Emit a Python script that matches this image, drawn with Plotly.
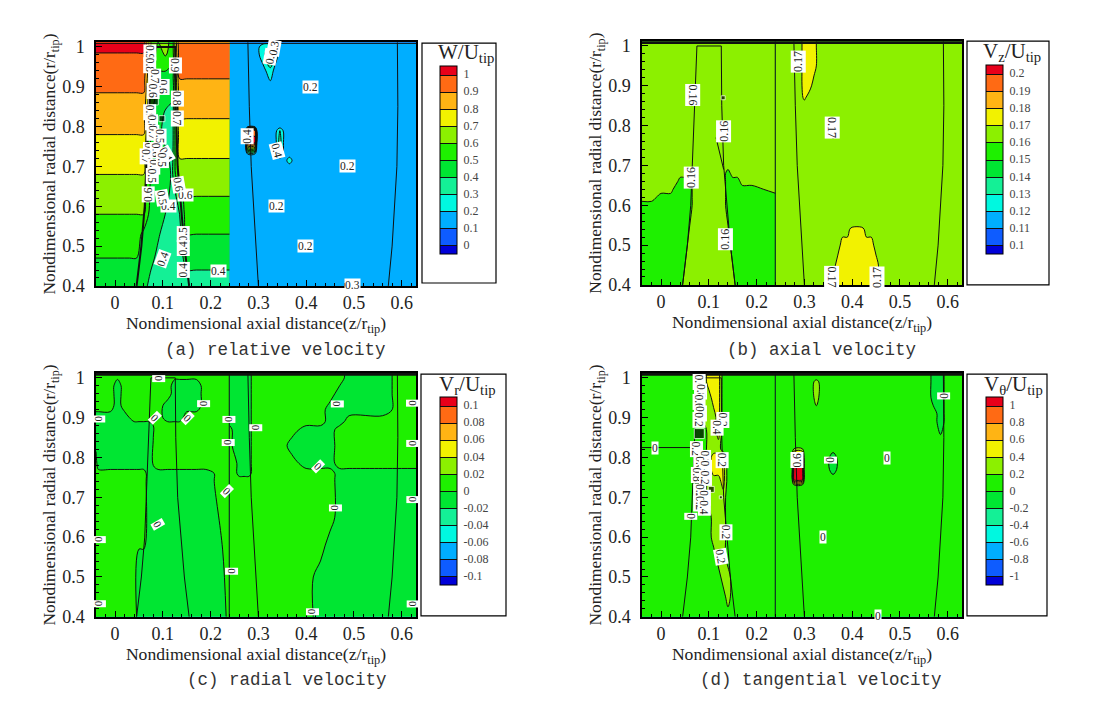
import plotly.graph_objects as go

W, H = 1096, 711
SERIF = "Liberation Serif"
PALETTE = ["#0000d8", "#0e5cff", "#00aeff", "#00f8e0", "#14f096", "#00e632",
           "#1ef000", "#8cf000", "#f2f200", "#ffb414", "#ff6a14", "#e8001a"]

panel_titles = ["W/U<sub>tip</sub>", "V<sub>z</sub>/U<sub>tip</sub>", "V<sub>r</sub>/U<sub>tip</sub>", "V<sub>θ</sub>/U<sub>tip</sub>"]
captions = ["(a) relative velocity", "(b) axial velocity", "(c) radial velocity", "(d) tangential velocity"]
level_start = [0, 0.1, -0.1, -1]
level_end = [1, 0.2, 0.1, 1]
level_size = [0.1, 0.01, 0.02, 0.2]
tick_text = [["0", "0.1", "0.2", "0.3", "0.4", "0.5", "0.6", "0.7", "0.8", "0.9", "1"],
             ["0.1", "0.11", "0.12", "0.13", "0.14", "0.15", "0.16", "0.17", "0.18", "0.19", "0.2"],
             ["-0.1", "-0.08", "-0.06", "-0.04", "-0.02", "0", "0.02", "0.04", "0.06", "0.08", "0.1"],
             ["-1", "-0.8", "-0.6", "-0.4", "-0.2", "0", "0.2", "0.4", "0.6", "0.8", "1"]]

# ---------- (a) relative velocity
a_lx = [-.04, .03, .045, .06, .075, .09, .105, .12, .135, .15, .17, .24]
a_ly = [.4, .44, .47, .53, .58, .625, .68, .72, .78, .82, .885, .92, .985, 1.012]
a_lz = [
    [.44, .44, .44, .42, .38, .36, .35, .35, .35, .35, .35, .35],
    [.48, .48, .47, .44, .40, .37, .36, .36, .36, .40, .40, .40],
    [.50, .50, .50, .45, .42, .38, .36, .36, .37, .43, .43, .43],
    [.55, .55, .55, .47, .44, .41, .37, .36, .38, .50, .50, .50],
    [.60, .60, .60, .60, .45, .43, .40, .37, .40, .55, .55, .55],
    [.65, .65, .65, .65, .47, .44, .42, .38, .42, .60, .60, .60],
    [.70, .70, .70, .70, .48, .45, .43, .39, .65, .65, .65, .65],
    [.74, .74, .74, .74, .48, .45, .42, .38, .70, .70, .70, .70],
    [.80, .80, .80, .80, .48, .42, .38, .36, .76, .76, .76, .76],
    [.84, .84, .84, .84, .50, .44, .38, .37, .80, .80, .80, .80],
    [.90, .90, .90, .90, .60, .46, .44, .42, .86, .86, .86, .86],
    [.94, .94, .94, .94, .65, .48, .45, .45, .90, .90, .90, .90],
    [1.0, 1.0, 1.0, 1.0, .70, .55, .62, .55, .96, .96, .96, .96],
    [1.05, 1.05, 1.05, 1.05, .70, .60, .65, .55, .99, .99, .99, .99],
]
a_rx = [.24, .273, .277, .293, .297, .31, .325, .335, .345, .355, .365, .375, .63]
a_ry = [.4, .70, .715, .73, .76, .79, .80, .90, .94, .98, 1.0, 1.012]
a_rz = [
    [.15, .15, .15, .15, .15, .15, .15, .15, .15, .15, .15, .15, .15],
    [.15, .15, .15, .15, .15, .15, .15, .15, .15, .15, .15, .15, .15],
    [.15, .15, .15, .15, .15, .15, .15, .15, .15, .15, .26, .15, .15],
    [.15, .15, .15, .15, .15, .15, .15, .15, .28, .15, .15, .15, .15],
    [.15, .15, 1.05, 1.05, .15, .15, .15, .15, .35, .15, .15, .15, .15],
    [.15, .15, .95, .95, .15, .15, .15, .15, .30, .15, .15, .15, .15],
    [.15, .15, .15, .15, .15, .15, .15, .15, .15, .15, .15, .15, .15],
    [.15, .15, .15, .15, .15, .15, .15, .15, .15, .15, .15, .15, .15],
    [.15, .15, .15, .15, .15, .15, .28, .15, .15, .15, .15, .15, .15],
    [.15, .15, .15, .15, .15, .28, .38, .28, .15, .15, .15, .15, .15],
    [.15, .15, .15, .15, .15, .28, .30, .28, .15, .15, .15, .15, .15],
    [.15, .15, .15, .15, .15, .15, .15, .15, .15, .15, .15, .15, .15],
]

# ---------- (b) axial velocity
b_lx = [-.04, -.02, 0, .02, .03, .04, .05, .06, .07, .125, .13, .14, .15, .16, .17, .19, .24]
b_ly = [.4, .5, .6, .62, .64, .66, .68, .70, 1.012]
b_lz = [
    [.155, .155, .155, .155, .155, .155, .165, .165, .165, .165, .165, .165, .165, .155, .155, .155, .155],
    [.155, .155, .155, .155, .155, .155, .155, .165, .165, .165, .165, .165, .155, .155, .155, .155, .155],
    [.155, .155, .155, .155, .155, .155, .155, .155, .165, .165, .165, .155, .155, .155, .155, .155, .155],
    [.165, .165, .155, .155, .155, .155, .155, .155, .165, .165, .165, .155, .155, .155, .155, .155, .155],
    [.165, .165, .165, .165, .155, .155, .155, .155, .165, .165, .165, .155, .155, .155, .155, .155, .165],
    [.165, .165, .165, .165, .165, .155, .155, .155, .165, .165, .165, .155, .155, .155, .165, .165, .165],
    [.165, .165, .165, .165, .165, .165, .165, .165, .165, .165, .165, .155, .165, .165, .165, .165, .165],
    [.165, .165, .165, .165, .165, .165, .165, .165, .165, .165, .165, .165, .165, .165, .165, .165, .165],
    [.165, .165, .165, .165, .165, .165, .165, .165, .165, .165, .165, .165, .165, .165, .165, .165, .165],
]
b_rx = [.24, .29, .30, .31, .32, .33, .35, .36, .37, .38, .39, .40, .42, .43, .44, .45, .46, .63]
b_ry = [.4, .45, .5, .54, .55, .73, .79, .85, .87, .9, .95, 1.0, 1.012]
L, Y = .165, .175
b_rz = [
    [L, L, L, L, L, L, L, Y, Y, Y, Y, Y, Y, Y, Y, Y, L, L],
    [L, L, L, L, L, L, L, L, Y, Y, Y, Y, Y, Y, Y, Y, L, L],
    [L, L, L, L, L, L, L, L, L, Y, Y, Y, Y, Y, Y, L, L, L],
    [L, L, L, L, L, L, L, L, L, L, L, Y, Y, L, L, L, L, L],
    [L, L, L, L, L, L, L, L, L, L, L, L, L, L, L, L, L, L],
    [L, L, L, L, L, L, L, L, L, L, L, L, L, L, L, L, L, L],
    [L, L, L, L, L, L, L, .173, L, L, L, L, L, L, L, L, L, L],
    [L, L, L, L, L, L, L, L, L, L, L, L, L, L, L, L, L, L],
    [L, L, .172, L, L, L, L, L, L, L, L, L, L, L, L, L, L, L],
    [L, L, Y, Y, L, L, L, L, L, L, L, L, L, L, L, L, L, L],
    [L, L, Y, Y, Y, L, L, L, L, L, L, L, L, L, L, L, L, L],
    [L, L, Y, Y, Y, L, L, L, L, L, L, L, L, L, L, L, L, L],
    [L, L, Y, Y, Y, L, L, L, L, L, L, L, L, L, L, L, L, L],
]

# ---------- (c) radial velocity
P, N = .01, -.01
c_lx = [-.04, -.035, -.01, .005, .02, .04, .05, .06, .07, .09, .11, .125, .135, .15, .17, .19, .225, .24]
c_ly = [.4, .74, .76, .78, .85, .88, .90, .93, .96, .98, 1.012]
c_lz = [
    [P, P, P, P, P, P, N, N, N, N, N, N, N, N, N, N, N, P],
    [P, P, P, P, P, P, P, P, N, N, N, N, N, N, N, N, P, P],
    [P, P, P, P, P, P, P, P, N, N, N, N, N, N, N, N, P, P],
    [P, N, N, N, N, N, N, N, N, P, P, P, P, P, P, P, P, P],
    [N, N, N, N, N, N, N, N, N, P, P, P, P, P, P, P, P, P],
    [N, N, N, N, N, N, N, N, N, P, P, P, P, P, P, P, P, P],
    [N, N, N, N, N, P, P, P, P, P, N, N, N, P, P, P, P, P],
    [P, P, P, N, P, P, P, P, P, P, N, N, N, N, N, P, P, P],
    [P, P, P, N, P, P, P, P, P, P, P, N, N, N, N, P, P, P],
    [P, P, P, N, P, P, P, P, P, P, P, N, N, N, N, P, P, P],
    [P, P, P, P, P, P, P, P, P, P, P, P, P, P, P, P, P, P],
]
c_rx = [.24, .25, .26, .27, .28, .29, .35, .37, .40, .43, .45, .47, .49, .56, .60, .63]
c_ry = [.4, .5, .58, .65, .745, .76, .785, .83, .87, .89, .92, .96, 1.0, 1.012]
c_rz = [
    [P, P, P, P, P, P, P, P, P, N, N, N, N, N, N, N],
    [P, P, P, P, P, P, P, P, P, N, N, N, N, N, N, N],
    [P, P, P, P, P, P, P, P, P, P, N, N, N, N, N, N],
    [P, P, P, P, P, P, P, P, P, P, P, N, N, N, N, N],
    [P, P, P, P, P, P, P, P, P, P, P, N, N, N, N, N],
    [P, P, N, N, N, P, P, P, P, P, P, N, N, N, N, N],
    [P, P, N, N, N, P, P, P, N, N, N, P, P, P, P, P],
    [P, N, N, N, N, P, P, N, N, N, N, P, P, P, P, P],
    [P, N, N, N, N, P, P, P, N, N, N, P, P, P, P, P],
    [N, N, N, N, N, P, P, P, P, P, N, N, P, P, P, P],
    [N, N, N, N, N, P, P, P, P, P, N, N, N, N, P, P],
    [N, N, N, N, N, P, P, P, P, P, P, N, N, N, P, P],
    [N, N, N, N, N, P, P, P, P, P, P, P, N, N, P, P],
    [N, N, N, N, N, P, P, P, P, P, P, P, N, N, P, P],
]

# ---------- (d) tangential velocity
M, G, A = .1, .3, .5
d_lx = [-.04, .04, .05, .06, .07, .08, .09, .10, .11, .12, .13, .14, .15, .16, .24]
d_ly = [.4, .45, .5, .55, .6, .65, .7, .74, .77, .80, .82, .87, .9, .95, .99, 1.012]
d_lz = [
    [M, M, M, M, M, M, M, M, M, M, M, M, M, M, M],
    [M, M, M, M, M, M, M, M, M, M, M, G, M, M, M],
    [M, M, M, M, M, M, M, M, M, M, G, G, M, M, M],
    [M, M, M, M, M, M, M, M, M, G, G, M, M, M, M],
    [M, M, M, M, M, M, M, M, G, G, G, M, M, M, M],
    [M, M, M, M, M, M, M, M, G, G, G, M, M, M, M],
    [M, M, M, M, M, M, M, G, G, G, G, M, M, M, M],
    [M, M, M, M, M, M, M, G, G, G, A, M, M, M, M],
    [M, M, M, M, M, M, M, G, A, A, A, M, M, M, M],
    [M, M, M, M, M, M, M, G, A, A, A, M, M, M, M],
    [M, M, M, M, M, M, M, G, G, G, M, M, M, M, M],
    [M, M, M, M, M, M, M, G, G, A, M, M, M, M, M],
    [M, M, M, M, M, M, G, G, G, A, M, M, M, M, M],
    [M, M, M, M, M, M, G, G, A, A, M, M, M, M, M],
    [M, M, M, M, M, G, G, A, A, A, M, M, M, M, M],
    [M, M, M, M, M, G, G, A, A, A, M, M, M, M, M],
]
d_rx = [.24, .274, .278, .296, .30, .315, .325, .335, .345, .36, .375, .385, .56, .57, .585, .60, .63]
d_ry = [.4, .73, .745, .77, .80, .825, .89, .91, .95, .99, 1.0, 1.012]
T = -.1
d_rz = [
    [M, M, M, M, M, M, M, M, M, M, M, M, M, M, M, M, M],
    [M, M, M, M, M, M, M, M, M, M, M, M, M, M, M, M, M],
    [M, M, 1.1, 1.1, M, M, M, M, M, M, M, M, M, M, M, M, M],
    [M, M, 1.1, 1.1, M, M, M, M, M, T, M, M, M, M, M, M, M],
    [M, M, .9, .9, M, M, M, M, M, T, M, M, M, M, M, M, M],
    [M, M, M, M, M, M, M, M, M, M, M, M, M, M, M, M, M],
    [M, M, M, M, M, M, M, M, M, M, M, M, M, M, T, M, M],
    [M, M, M, M, M, M, M, M, M, M, M, M, M, M, T, M, M],
    [M, M, M, M, M, M, G, M, M, M, M, M, M, T, T, M, M],
    [M, M, M, M, M, M, G, M, M, M, M, M, M, T, T, M, M],
    [M, M, M, M, M, M, M, M, M, M, M, M, M, T, T, M, M],
    [M, M, M, M, M, M, M, M, M, M, M, M, M, T, T, M, M],
]

grids = [(a_lx, a_ly, a_lz, a_rx, a_ry, a_rz), (b_lx, b_ly, b_lz, b_rx, b_ry, b_rz),
         (c_lx, c_ly, c_lz, c_rx, c_ry, c_rz), (d_lx, d_ly, d_lz, d_rx, d_ry, d_rz)]

# Zone outlines common to all panels
hub_x = [.045, .055, .062, .065, .072, .075, .126, .127, .131, .138, .145, .155]
hub_y = [.4, .5, .6, .7, .9, 1.0, 1.0, .85, .7, .6, .5, .4]
wake_x = [.30, .293, .285, .281, .278]
wake_y = [.4, .55, .7, .85, 1.012]
exit_x = [.572, .58, .59, .592, .591]
exit_y = [.4, .5, .7, .85, 1.012]
zone_x = [.239, .239]
zone_y = [.4, 1.012]
top_x = [-.04, .63]
top_y = [1.009, 1.009]

# Extra contour pieces belonging to single panels
extra_x = [[], [.115, .131], [], [-.04, .065]]
extra_y = [[], [.77, .69], [], [.825, .825]]

# Contour labels: x, y, text, angle
a_labels = [(.41, .9, "0.2", 0), (.487, .70, "0.2", 0), (.337, .60, "0.2", 0), (.398, .50, "0.2", 0),
            (.496, .403, "0.3", 0), (.147, .628, "0.6", 0), (.112, .60, "0.4", 0), (.217, .437, "0.4", 0),
            (.099, .468, "0.4", -70), (.276, .777, "0.4", -90), (.34, .74, "0.4", 75), (.325, .975, "0.4", -80),
            (.332, .998, "0.3", -80), (.07, .63, "0.6", -90), (.098, .62, "0.5", 80), (.133, .654, "0.6", 80),
            (.143, .53, "0.5", -90), (.143, .495, "0.4", -90), (.143, .44, "0.4", -90), (.127, .953, "0.9", 90),
            (.131, .87, "0.8", 90), (.131, .82, "0.7", 90), (.101, .90, "0.6", 90),
            (.073, .985, "0.9", 90), (.073, .953, "0.8", 90), (.083, .925, "0.7", 90), (.08, .89, "0.6", 90),
            (.073, .835, "0.9", 90), (.077, .81, "0.8", 90), (.08, .785, "0.7", 90), (.095, .775, "0.5", 90),
            (.073, .74, "0.8", 90), (.087, .74, "0.6", 90), (.066, .725, "0.7", 90), (.108, .73, "0.4", 60),
            (.08, .70, "0.6", 90), (.098, .715, "0.5", 90), (.077, .675, "0.5", 90)]
b_labels = [(.067, .878, "0.16", 90), (.064, .67, "0.16", -90), (.13, .785, "0.16", -90), (.135, .515, "0.16", -90),
            (.287, .96, "0.17", -90), (.359, .795, "0.17", 90), (.357, .42, "0.17", 90), (.452, .42, "0.17", -90)]
c_labels = [(.092, .998, "0", 90), (.084, .90, "0", 45), (.152, .90, "0", 45), (.185, .934, "0", 90),
            (-.034, .897, "0", 90), (.239, .895, "0", 90), (.294, .876, "0", 90), (.236, .838, "0", 90),
            (.465, .934, "0", 90), (.622, .936, "0", 90), (.624, .835, "0", 90), (.424, .778, "0", 45),
            (.234, .716, "0", 45), (.462, .674, "0", 90), (.089, .633, "0", 60), (.624, .694, "0", 90),
            (-.033, .593, "0", 90), (.243, .514, "0", 90), (-.033, .432, "0", 90), (.414, .413, "0", 90),
            (.624, .432, "0", 90)]
d_labels = [(-.012, .825, "0", 0), (.062, .653, "0", 90), (.592, .955, "0", 90), (.474, .80, "0", 0),
            (.354, .793, "0", 90), (.339, .60, "0", 0), (.285, .793, "0.6", -90), (.455, .403, "0", 0),
            (.135, .612, "0.2", 90), (.125, .55, "0.2", 80), (.130, .895, "0.2", 90), (.118, .875, "0.4", 90),
            (.128, .794, "0.2", 90), (.08, .99, "0.6", 90), (.083, .965, "0.8", 90), (.08, .94, "0.6", 90),
            (.083, .91, "0.4", 90), (.08, .895, "0.2", 90), (.075, .82, "0.2", 90), (.092, .80, "0.2", 90),
            (.08, .785, "0.6", 90), (.092, .775, "0.4", 90), (.075, .755, "0.8", 90), (.092, .75, "0.2", 90),
            (.08, .715, "0.2", 90), (.09, .70, "0.4", 90), (.08, .685, "0.2", 90), (.09, .675, "0.4", 90)]
labels = [a_labels, b_labels, c_labels, d_labels]
label_size = [11.5, 12, 11, 11.5]

# Spots where the contour lines merge into solid black
blob_x = [[.08, .098], [.13], [], [.08, .08, .105, .125]]
blob_y = [[.867, .82], [.87], [], [.86, .725, .72, .70]]
blob_s = [[10, 6], [4], [], [10, 10, 6, 3]]

# Pixel frames of the four panels: left, top, right, bottom
frames = [(96, 38, 416, 287), (642, 37, 962, 286), (96, 376, 416, 625), (642, 376, 962, 625)]
boxes = [(422, 39, 496, 284), (967, 37, 1049, 286), (421, 377, 506, 624), (967, 377, 1047, 624)]
strips = [(440, 66, 254), (986, 65, 254), (440, 404, 592), (986, 404, 592)]
title_xy = [(466, 49), (1012, 48), (467, 388), (1013, 388)]
caption_xy = [(275, 352), (821, 352), (287, 690), (821, 690)]

fig = go.Figure()
layout = dict(width=W, height=H, autosize=False, margin=dict(l=0, r=0, t=0, b=0),
              paper_bgcolor="white", plot_bgcolor="white", showlegend=False,
              font=dict(family=SERIF, color="#222222"))
annots, shapes = [], []
scale = []
for k, c in enumerate(PALETTE):
    scale += [[k / 12, c], [(k + 1) / 12, c]]
for i in range(4):
    s = "" if i == 0 else str(i + 1)
    xa, ya = "x" + s, "y" + s
    lx, ly, lz, rx, ry, rz = grids[i]
    contours = dict(start=level_start[i], end=level_end[i], size=level_size[i], coloring="fill")
    sx, st, sb = strips[i]
    cb = dict(thickness=17, thicknessmode="pixels", len=sb - st, lenmode="pixels",
              x=sx / W, xanchor="left", y=1 - sb / H, yanchor="bottom", xpad=0, ypad=0,
              outlinecolor="black", outlinewidth=1,
              tickmode="array", ticks="outside", ticklen=4, tickcolor="rgba(0,0,0,0)",
              tickvals=[level_start[i] + k * level_size[i] for k in range(11)],
              ticktext=tick_text[i], tickfont=dict(family=SERIF, size=12, color="#444444"))
    fig.add_trace(go.Contour(x=lx, y=ly, z=lz, xaxis=xa, yaxis=ya, contours=contours, colorscale=scale,
                             line=dict(color="#101010", width=1), showscale=True, colorbar=cb, hoverinfo="skip"))
    fig.add_trace(go.Contour(x=rx, y=ry, z=rz, xaxis=xa, yaxis=ya, contours=contours, colorscale=scale,
                             line=dict(color="#101010", width=1), showscale=False, hoverinfo="skip"))
    for ox, oy, w in [(hub_x, hub_y, 2 if i == 0 else 1), (wake_x, wake_y, 1), (exit_x, exit_y, 1),
                      (zone_x, zone_y, 0 if i == 0 else 1), (top_x, top_y, 1 if i == 0 else 3),
                      (extra_x[i], extra_y[i], 1)]:
        if w and ox:
            fig.add_trace(go.Scatter(x=ox, y=oy, xaxis=xa, yaxis=ya, mode="lines",
                                     line=dict(color="#101010", width=w), hoverinfo="skip"))
    if blob_x[i]:
        fig.add_trace(go.Scatter(x=blob_x[i], y=blob_y[i], xaxis=xa, yaxis=ya, mode="markers",
                                 marker=dict(symbol="square", color="black", size=blob_s[i]), hoverinfo="skip"))
    l, t, r, b = frames[i]
    axis = dict(showgrid=False, zeroline=False, showline=True, linecolor="black", linewidth=1.5, mirror=True,
                ticks="inside", ticklen=6, tickcolor="black", tickwidth=1, layer="above traces",
                tickfont=dict(family=SERIF, size=18, color="#222222"))
    layout["xaxis" + s] = dict(axis, range=[-.04, .63], dtick=.1, tick0=0, anchor=ya, ticklabelstandoff=0,
                               domain=[l / W, r / W], minor=dict(dtick=.02, ticks="inside", ticklen=3, tickcolor="black"),
                               title=dict(text="Nondimensional axial distance(z/r<sub>tip</sub>)",
                                          font=dict(family=SERIF, size=17.6, color="#222222"), standoff=2))
    layout["yaxis" + s] = dict(axis, range=[.4, 1.012], dtick=.1, tick0=.4, anchor=xa, ticklabelstandoff=6,
                               domain=[1 - b / H, 1 - t / H], minor=dict(dtick=.02, ticks="inside", ticklen=3, tickcolor="black"),
                               title=dict(text="Nondimensional radial distance(r/r<sub>tip</sub>)",
                                          font=dict(family=SERIF, size=17.4, color="#222222"), standoff=2))
    for (lxv, lyv, txt, ang) in labels[i]:
        annots.append(dict(x=lxv, y=lyv, xref=xa, yref=ya, text=txt, textangle=ang, showarrow=False,
                           bgcolor="white", borderpad=0, font=dict(family=SERIF, size=label_size[i], color="#222222")))
    bx0, by0, bx1, by1 = boxes[i]
    shapes.append(dict(type="rect", xref="paper", yref="paper", x0=bx0 / W, x1=bx1 / W,
                       y0=1 - by1 / H, y1=1 - by0 / H, line=dict(color="black", width=1.2), layer="below"))
    tx, ty = title_xy[i]
    annots.append(dict(x=tx / W, y=1 - ty / H, xref="paper", yref="paper", text=panel_titles[i], showarrow=False,
                       xanchor="center", yanchor="middle", font=dict(family=SERIF, size=21, color="#222222")))
    cx, cy = caption_xy[i]
    annots.append(dict(x=cx / W, y=1 - cy / H, xref="paper", yref="paper", text=captions[i], showarrow=False,
                       xanchor="center", yanchor="middle", font=dict(family="Liberation Mono", size=17.5, color="#333333")))
layout["annotations"] = annots
layout["shapes"] = shapes
fig.update_layout(**layout)
fig.write_html("out.html", config={"displayModeBar": False}, post_script="document.body.style.margin='0';")
